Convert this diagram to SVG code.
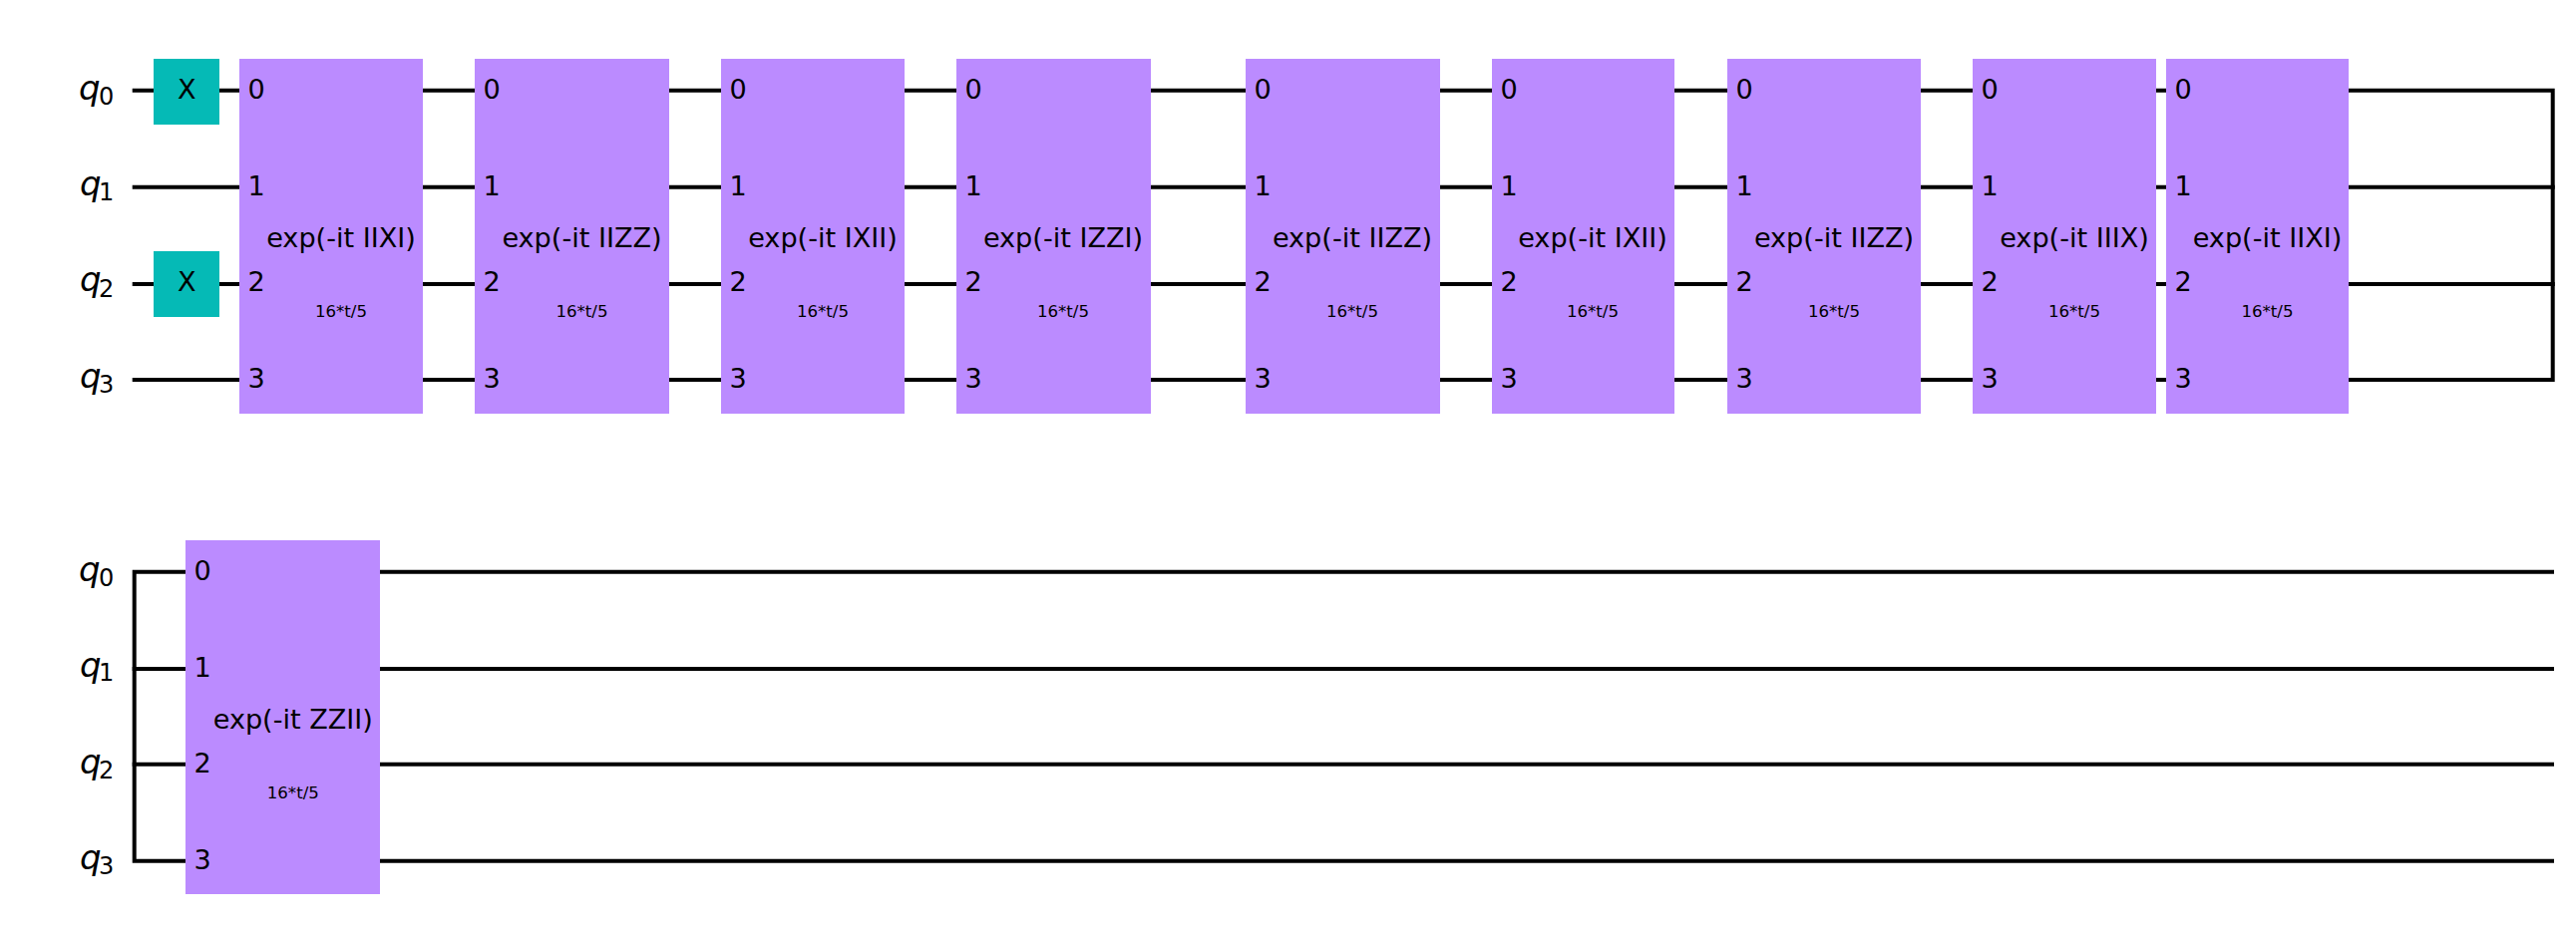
<svg xmlns="http://www.w3.org/2000/svg" width="2583" height="937" viewBox="0 0 2583 937">
<style>
text{font-family:"DejaVu Sans",sans-serif;fill:#000}
.w{stroke:#000;stroke-width:4;fill:none;stroke-linecap:square}
.g{fill:#BB8BFF}
.x{fill:#05BAB6}
.l{font-size:27.1px;text-anchor:middle}
.p{font-size:27.1px;text-anchor:middle}
.s{font-size:16.6px;text-anchor:middle}
.q{font-size:34px;font-style:italic}
.i{font-size:24px}
</style>
<rect width="2583" height="937" fill="#fff"/>
<g id="connectors">
<path class="w" d="M134.7 90.7H2559.7V381H134.7"/>
<path class="w" d="M134.7 187.7H2559.7"/>
<path class="w" d="M134.7 285H2559.7"/>
<path class="w" d="M2559 573.7H134.7V863.7H2559"/>
<path class="w" d="M134.7 671H2559"/>
<path class="w" d="M134.7 766.7H2559"/>
</g>
<g id="registers">
<text class="q" x="79" y="99.6">q</text><text class="i" x="99" y="105">0</text>
<text class="q" x="80" y="195.6">q</text><text class="i" x="99" y="200.7">1</text>
<text class="q" x="80" y="292">q</text><text class="i" x="99" y="297.7">2</text>
<text class="q" x="80" y="388.6">q</text><text class="i" x="99" y="394">3</text>
<text class="q" x="79" y="582.9">q</text><text class="i" x="99" y="588.3">0</text>
<text class="q" x="80" y="678.6">q</text><text class="i" x="99" y="683.3">1</text>
<text class="q" x="80" y="775.6">q</text><text class="i" x="99" y="781">2</text>
<text class="q" x="80" y="872">q</text><text class="i" x="99" y="877.3">3</text>
</g>
<g id="x0"><rect class="x" x="154" y="59" width="66" height="66"/><text class="p" x="187.3" y="98.6">X</text></g>
<g id="x2"><rect class="x" x="154" y="252" width="66" height="66"/><text class="p" x="187.3" y="291.6">X</text></g>
<g id="g1"><rect class="g" x="240" y="59" width="184" height="356"/><text class="p" x="257" y="98.8">0</text><text class="p" x="257" y="196">1</text><text class="p" x="257" y="292.2">2</text><text class="p" x="257" y="388.5">3</text><text class="l" x="342" y="248">exp(-it IIXI)</text><text class="s" x="342" y="317.8">16*t/5</text></g>
<g id="g2"><rect class="g" x="476" y="59" width="195" height="356"/><text class="p" x="493" y="98.8">0</text><text class="p" x="493" y="196">1</text><text class="p" x="493" y="292.2">2</text><text class="p" x="493" y="388.5">3</text><text class="l" x="583.5" y="248">exp(-it IIZZ)</text><text class="s" x="583.5" y="317.8">16*t/5</text></g>
<g id="g3"><rect class="g" x="723" y="59" width="184" height="356"/><text class="p" x="740" y="98.8">0</text><text class="p" x="740" y="196">1</text><text class="p" x="740" y="292.2">2</text><text class="p" x="740" y="388.5">3</text><text class="l" x="825" y="248">exp(-it IXII)</text><text class="s" x="825" y="317.8">16*t/5</text></g>
<g id="g4"><rect class="g" x="959" y="59" width="195" height="356"/><text class="p" x="976" y="98.8">0</text><text class="p" x="976" y="196">1</text><text class="p" x="976" y="292.2">2</text><text class="p" x="976" y="388.5">3</text><text class="l" x="1066" y="248">exp(-it IZZI)</text><text class="s" x="1066" y="317.8">16*t/5</text></g>
<g id="g5"><rect class="g" x="1249" y="59" width="195" height="356"/><text class="p" x="1266" y="98.8">0</text><text class="p" x="1266" y="196">1</text><text class="p" x="1266" y="292.2">2</text><text class="p" x="1266" y="388.5">3</text><text class="l" x="1356" y="248">exp(-it IIZZ)</text><text class="s" x="1356" y="317.8">16*t/5</text></g>
<g id="g6"><rect class="g" x="1496" y="59" width="183" height="356"/><text class="p" x="1513" y="98.8">0</text><text class="p" x="1513" y="196">1</text><text class="p" x="1513" y="292.2">2</text><text class="p" x="1513" y="388.5">3</text><text class="l" x="1597" y="248">exp(-it IXII)</text><text class="s" x="1597" y="317.8">16*t/5</text></g>
<g id="g7"><rect class="g" x="1732" y="59" width="194" height="356"/><text class="p" x="1749" y="98.8">0</text><text class="p" x="1749" y="196">1</text><text class="p" x="1749" y="292.2">2</text><text class="p" x="1749" y="388.5">3</text><text class="l" x="1839" y="248">exp(-it IIZZ)</text><text class="s" x="1839" y="317.8">16*t/5</text></g>
<g id="g8"><rect class="g" x="1978" y="59" width="184" height="356"/><text class="p" x="1995" y="98.8">0</text><text class="p" x="1995" y="196">1</text><text class="p" x="1995" y="292.2">2</text><text class="p" x="1995" y="388.5">3</text><text class="l" x="2080" y="248">exp(-it IIIX)</text><text class="s" x="2080" y="317.8">16*t/5</text></g>
<g id="g9"><rect class="g" x="2172" y="59" width="183" height="356"/><text class="p" x="2189" y="98.8">0</text><text class="p" x="2189" y="196">1</text><text class="p" x="2189" y="292.2">2</text><text class="p" x="2189" y="388.5">3</text><text class="l" x="2273.5" y="248">exp(-it IIXI)</text><text class="s" x="2273.5" y="317.8">16*t/5</text></g>
<g id="g10"><rect class="g" x="186" y="542" width="195" height="355"/><text class="p" x="203" y="581.8">0</text><text class="p" x="203" y="679">1</text><text class="p" x="203" y="775.2">2</text><text class="p" x="203" y="871.5">3</text><text class="l" x="293.8" y="731.2">exp(-it ZZII)</text><text class="s" x="293.8" y="800.5">16*t/5</text></g>
</svg>
